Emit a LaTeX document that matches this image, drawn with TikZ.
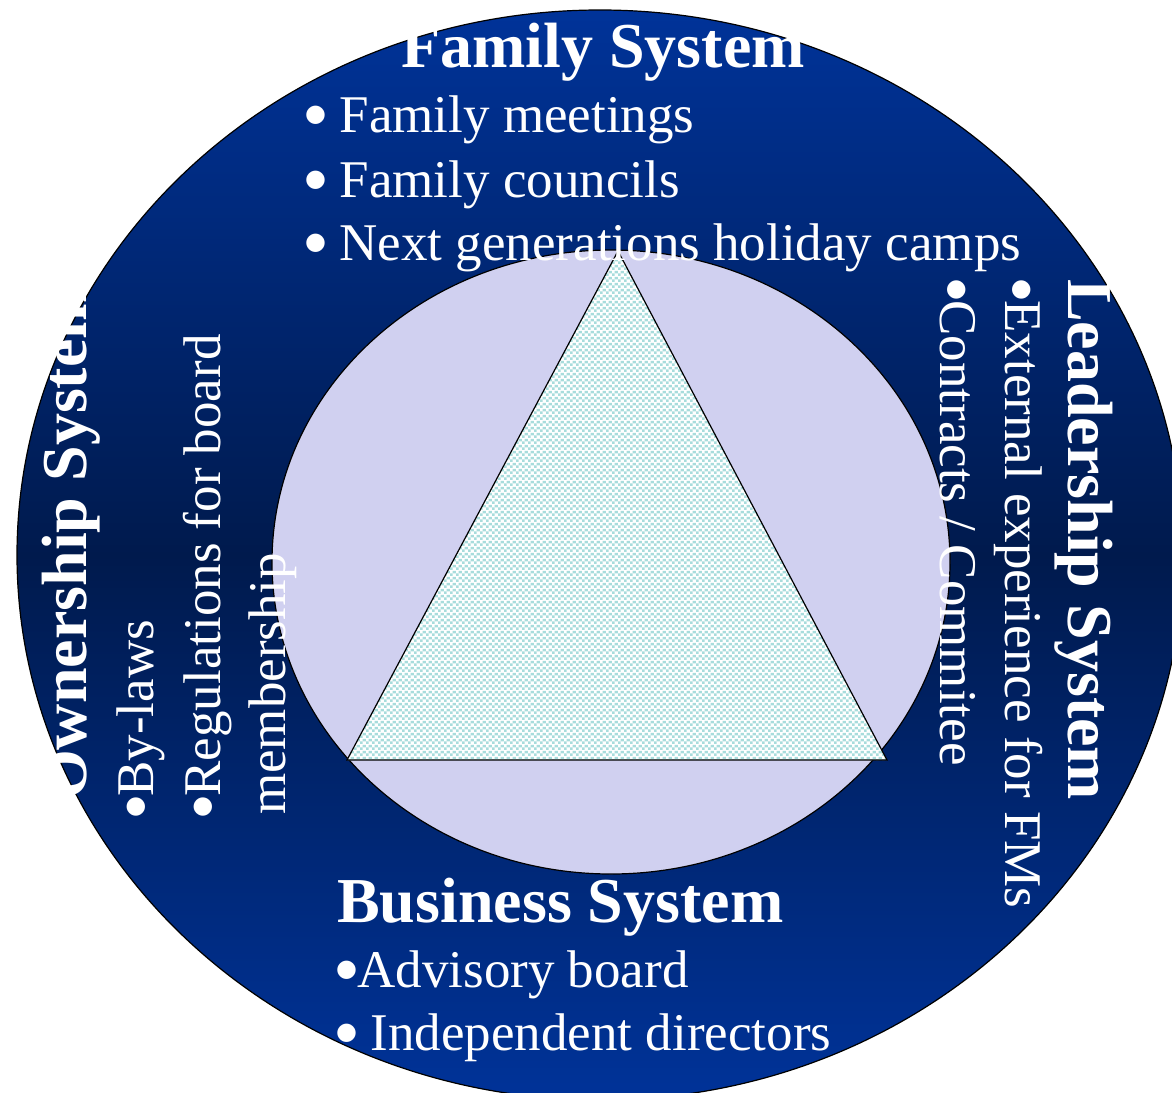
\documentclass[tikz,border=0pt]{standalone}
\usepackage{fontspec}
\setmainfont{Liberation Serif}
\newfontfamily\bulfont{DejaVu Sans}
\usetikzlibrary{patterns.meta}
\definecolor{outerblue}{RGB}{0,51,153}
\definecolor{outerdark}{RGB}{0,26,77}
\definecolor{innerlav}{RGB}{208,208,240}
\definecolor{tealchk}{RGB}{168,220,220}
\newcommand\bigbul{\makebox[0.40em][l]{\raisebox{10.5pt}{\bulfont\fontsize{24}{24}\selectfont ●}}}
\tikzdeclarepattern{
  name=tealcheck,
  type=colored,
  bottom left={(0pt,0pt)},
  top right={(6pt,6pt)},
  tile size={(6pt,6pt)},
  code={
    \fill[tealchk] (0pt,0pt) rectangle (3pt,3pt);
    \fill[tealchk] (3pt,3pt) rectangle (6pt,6pt);
  }
}
\begin{document}
\begin{tikzpicture}[x=1pt,y=-1pt,
  systitle/.style={text=white, font=\fontsize{64}{70}\selectfont\bfseries, inner sep=0pt, anchor=base west},
  sysitem/.style={text=white, font=\fontsize{53}{60}\selectfont, inner sep=0pt, anchor=base west},
  outline/.style={draw=black, line width=1.2pt}]
\fill[white] (0,0) rectangle (1172,1092);
\useasboundingbox (0,0) rectangle (1172,1092);
% outer ring
\path[outline, top color=outerblue, bottom color=outerblue, middle color=outerdark]
  (600,555) ellipse [x radius=583pt, y radius=545pt];
% inner ellipse
\path[outline, fill=innerlav] (611,562) ellipse [x radius=339pt, y radius=312pt];
% triangle
\coordinate (apex) at (618,251);
\coordinate (bl) at (347,760);
\coordinate (br) at (887,760);
\fill[white] (apex) -- (bl) -- (br) -- cycle;
\fill[pattern=tealcheck] (apex) -- (bl) -- (br) -- cycle;
\draw[line width=1.2pt] (apex) -- (bl) -- (br) -- cycle;
% family
\node[systitle, anchor=base] (famT) at (603,67) {Family System};
\node[sysitem] (f1) at (305,132) {\bigbul\ Family meetings};
\node[sysitem] (f2) at (305,197) {\bigbul\ Family councils};
\node[sysitem] (f3) at (305,260) {\bigbul\ Next generations holiday camps};
% ownership
\node[systitle, rotate=90] (ownT) at (86,800) {Ownership System};
\node[sysitem, rotate=90] (o1) at (153,818) {\bigbul By-laws};
\node[sysitem, rotate=90] (o2) at (220,818) {\bigbul Regulations for board};
\node[sysitem, rotate=90] (o3) at (285,815) {membership};
% leadership
\node[systitle, rotate=-90] (leadT) at (1068,279) {Leadership System};
\node[sysitem, rotate=-90] (l1) at (1005,279) {\bigbul External experience for FMs};
\node[sysitem, rotate=-90] (l2) at (940,279) {\bigbul Contracts / Commitee};
% business
\node[systitle] (busT) at (337,922) {Business System};
\node[sysitem] (b1) at (336,987) {\bigbul Advisory board};
\node[sysitem] (b2) at (336,1050) {\bigbul\ Independent directors};
\end{tikzpicture}
\end{document}
